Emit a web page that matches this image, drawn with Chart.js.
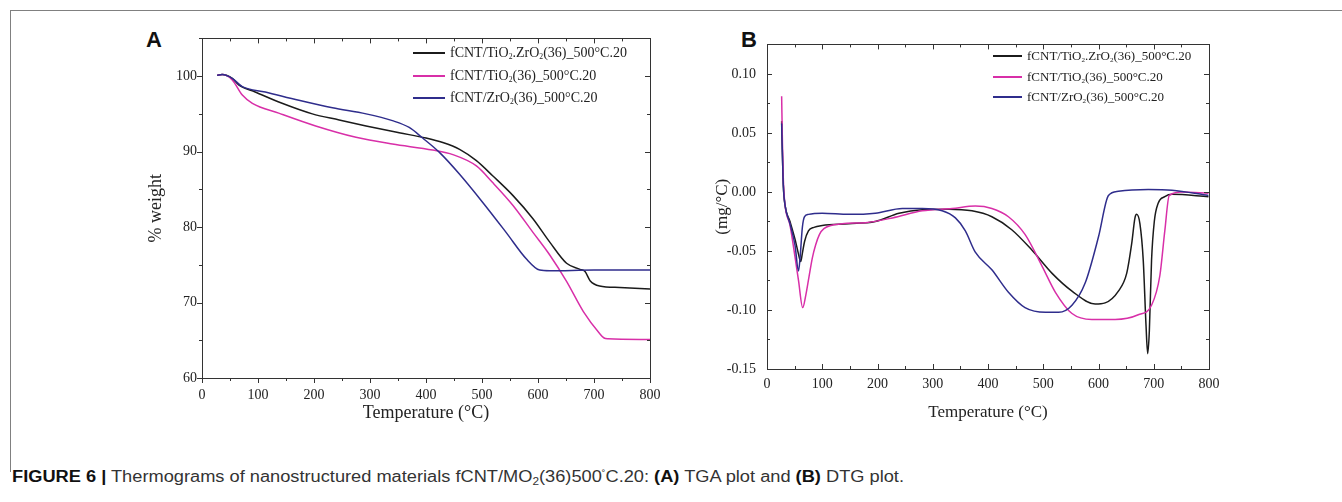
<!DOCTYPE html>
<html>
<head>
<meta charset="utf-8">
<script src="https://cdn.jsdelivr.net/npm/chart.js@4.4.1/dist/chart.umd.min.js"></script>
<style>
  body { margin: 0; background: #fff; width: 1342px; height: 502px; position: relative; overflow: hidden; font-family: "Liberation Serif", "Times New Roman", serif; }
  .rule-top { position: absolute; left: 10px; top: 10px; width: 1332px; height: 1px; background: #808080; }
  .rule-left { position: absolute; left: 10px; top: 10px; width: 1px; height: 462px; background: #808080; }
  .panel-letter { position: absolute; font: bold 22px "Liberation Sans", Arial, sans-serif; color: #111; }
  canvas { position: absolute; }
  .legend { position: absolute; color: #222; white-space: nowrap; }
  .legend .row { display: flex; align-items: center; }
  .legend .swatch { display: inline-block; height: 1.6px; margin-right: 5px; }
  .legend sub { font-size: 0.55em; vertical-align: -0.25em; line-height: 0; }
  .caption { position: absolute; left: 12px; top: 468px; font: 16px "Liberation Sans Narrow", "Liberation Sans", Arial, sans-serif; color: #333; white-space: nowrap; transform-origin: 0 0; }
  .caption b { color: #111; }
  .caption sub { font-size: 0.65em; vertical-align: -0.25em; line-height: 0; }
  .caption sup { font-size: 0.6em; vertical-align: 0.5em; line-height: 0; }
</style>
</head>
<body>
<div class="rule-top"></div>
<div class="rule-left"></div>

<div class="panel-letter" style="left:146px; top:27px;">A</div>
<div class="panel-letter" style="left:741px; top:27px;">B</div>

<canvas id="tgaChart" width="530" height="425" style="left:140px; top:25px;"></canvas>
<canvas id="dtgChart" width="530" height="425" style="left:700px; top:25px;"></canvas>

<div class="legend" id="legendA" style="left:413px; top:42px; font-size:14px;"></div>
<div class="legend" id="legendB" style="left:993px; top:46px; font-size:13px;"></div>

<div class="caption" id="caption"><b>FIGURE 6 |</b> Thermograms of nanostructured materials fCNT/MO<sub>2</sub>(36)500<sup>˚</sup>C.20: <b>(A)</b> TGA plot and <b>(B)</b> DTG plot.</div>

<script>
// ---- series names ----
const seriesNames = [
    'fCNT/TiO<sub>2</sub>.ZrO<sub>2</sub>(36)_500°C.20',
    'fCNT/TiO<sub>2</sub>(36)_500°C.20',
    'fCNT/ZrO<sub>2</sub>(36)_500°C.20'
];
const seriesColors = ['#1b1b1b', '#d82fa8', '#2f2d8c'];

// ---- (A) TGA: temperature (°C) / % weight ----
const tgaTempMix = [27, 36, 54, 66, 95, 143, 197, 245, 293, 352, 400, 430, 460, 490, 519, 555, 591, 621, 651, 675, 684, 693, 710, 746, 800];
const tgaWtMix   = [100.1, 100.2, 99.7, 98.8, 97.9, 96.4, 95.0, 94.2, 93.4, 92.5, 91.8, 91.2, 90.3, 88.8, 86.8, 84.2, 81.1, 78.0, 75.2, 74.4, 74.1, 72.9, 72.2, 72.0, 71.8];

const tgaTempTi = [27, 36, 54, 72, 90, 137, 203, 275, 340, 412, 448, 490, 519, 555, 591, 621, 651, 681, 710, 718, 725, 800];
const tgaWtTi   = [100.1, 100.2, 99.5, 97.5, 96.4, 95.1, 93.4, 91.9, 91.0, 90.2, 89.6, 88.1, 85.9, 82.9, 79.3, 76.3, 72.8, 68.8, 65.9, 65.3, 65.2, 65.1];

const tgaTempZr = [27, 36, 54, 72, 113, 173, 233, 293, 340, 370, 394, 424, 460, 501, 543, 579, 603, 621, 700, 800];
const tgaWtZr   = [100.1, 100.2, 99.7, 98.6, 97.9, 96.8, 95.8, 95.0, 94.1, 93.2, 91.8, 89.9, 87.0, 83.3, 79.3, 75.8, 74.3, 74.2, 74.3, 74.3];

// ---- (B) DTG: temperature (°C) / mg per °C ----
const dtgTempMix = [26.5, 28, 29.6, 32.6, 41.6, 50.7, 56.7, 61, 64, 68, 75, 85, 100, 148, 196, 239, 281, 329, 371, 407, 443, 479, 516, 552, 594, 612, 636, 651, 660, 666, 669, 675, 681, 686, 689, 692, 696, 701, 708, 720, 733, 799];
const dtgValMix  = [0.060, 0.030, 0.005, -0.011, -0.025, -0.040, -0.052, -0.059, -0.052, -0.042, -0.033, -0.030, -0.0285, -0.027, -0.025, -0.018, -0.015, -0.0146, -0.016, -0.021, -0.032, -0.049, -0.069, -0.084, -0.095, -0.094, -0.084, -0.069, -0.044, -0.022, -0.019, -0.027, -0.058, -0.113, -0.137, -0.118, -0.058, -0.025, -0.0096, -0.004, -0.002, -0.004];

const dtgTempTi = [26.5, 28, 29.6, 32.6, 41.6, 50.7, 57, 64.6, 70, 76, 82, 88, 95, 103, 136, 178, 227, 281, 335, 377, 407, 437, 467, 498, 522, 552, 588, 630, 672, 696, 711, 720, 728, 751, 799];
const dtgValTi  = [0.081, 0.040, 0.010, -0.011, -0.028, -0.055, -0.075, -0.098, -0.088, -0.072, -0.056, -0.045, -0.036, -0.031, -0.027, -0.026, -0.022, -0.016, -0.014, -0.012, -0.014, -0.021, -0.036, -0.063, -0.085, -0.103, -0.108, -0.108, -0.104, -0.096, -0.071, -0.033, -0.003, 0.000, -0.001];

const dtgTempZr = [26.5, 28, 29.6, 32.6, 41.6, 50.7, 57, 60, 64, 68, 75, 100, 148, 196, 245, 281, 317, 341, 359, 377, 407, 437, 467, 504, 528, 552, 576, 600, 618, 636, 690, 733, 799];
const dtgValZr  = [0.058, 0.030, 0.005, -0.011, -0.027, -0.045, -0.067, -0.055, -0.030, -0.021, -0.019, -0.018, -0.019, -0.018, -0.014, -0.014, -0.016, -0.022, -0.033, -0.051, -0.066, -0.085, -0.098, -0.102, -0.102, -0.096, -0.077, -0.038, -0.003, 0.0006, 0.002, 0.0014, -0.003];

// ---- axis ticks ----
const tempTicks = [0, 100, 200, 300, 400, 500, 600, 700, 800];
const tgaTicks = [60, 70, 80, 90, 100];
const dtgTicks = [-0.15, -0.10, -0.05, 0.00, 0.05, 0.10];

const toPoints = (xs, ys) => xs.map((x, i) => ({ x: x, y: ys[i] }));
const isMajor = (v, list) => list.some(t => Math.abs(t - v) < 1e-9);

const TICK_FONT = { family: '"Liberation Serif", "Times New Roman", serif', size: 14 };
const TEXT_COLOR = '#222';

// khung + vạch chia bốn phía
const framePlugin = {
    id: 'frame',
    afterDatasetsDraw(chart, args, opts) {
        const { ctx, chartArea: { left, right, top, bottom }, scales: { x, y } } = chart;
        ctx.save();
        ctx.strokeStyle = '#333';
        ctx.lineWidth = 1;
        ctx.strokeRect(Math.round(left) + 0.5, Math.round(top) + 0.5, Math.round(right - left), Math.round(bottom - top));
        ctx.beginPath();
        const outSign = opts.outward ? 1 : -1;
        x.ticks.forEach(t => {
            const len = isMajor(t.value, opts.xMajor) ? 5 : 3;
            const px = Math.round(x.getPixelForValue(t.value)) + 0.5;
            ctx.moveTo(px, bottom); ctx.lineTo(px, bottom + outSign * len);
            ctx.moveTo(px, top); ctx.lineTo(px, top + len);
        });
        y.ticks.forEach(t => {
            const len = isMajor(t.value, opts.yMajor) ? 5 : 3;
            const py = Math.round(y.getPixelForValue(t.value)) + 0.5;
            ctx.moveTo(left, py); ctx.lineTo(left - outSign * len, py);
            ctx.moveTo(right, py); ctx.lineTo(right - len, py);
        });
        ctx.stroke();
        ctx.restore();
    }
};

function makeDatasets(groups) {
    return groups.map((g, i) => ({
        label: seriesNames[i].replace(/<\/?sub>/g, ''),
        data: toPoints(g[0], g[1]),
        borderColor: seriesColors[i],
        borderWidth: 1.5,
        pointRadius: 0,
        fill: false,
        cubicInterpolationMode: 'monotone',
        order: 2 - i
    }));
}

function makeOptions(cfg) {
    return {
        responsive: false,
        animation: false,
        layout: { padding: { top: 10, right: cfg.padRight, left: 0, bottom: 0 } },
        plugins: {
            legend: { display: false },
            tooltip: { enabled: false },
            frame: { outward: cfg.outward, xMajor: tempTicks, yMajor: cfg.yMajor }
        },
        scales: {
            x: {
                type: 'linear', min: 0, max: 800,
                grid: { display: false, drawTicks: false },
                border: { display: false },
                ticks: {
                    stepSize: 50, autoSkip: false, maxRotation: 0,
                    padding: cfg.xPad, font: TICK_FONT, color: TEXT_COLOR,
                    callback: v => isMajor(v, tempTicks) ? String(v) : ''
                },
                title: {
                    display: true, text: 'Temperature (°C)', color: TEXT_COLOR,
                    font: { family: TICK_FONT.family, size: cfg.xTitleSize },
                    padding: { top: 0, bottom: cfg.xTitlePad }
                },
                afterFit: s => { s.height = cfg.xAxisH; }
            },
            y: {
                min: cfg.yMin, max: cfg.yMax,
                grid: { display: false, drawTicks: false },
                border: { display: false },
                ticks: {
                    stepSize: cfg.yStep, autoSkip: false,
                    padding: cfg.yPad, font: TICK_FONT, color: TEXT_COLOR,
                    callback: v => isMajor(v, cfg.yMajor) ? cfg.fmt(v) : ''
                },
                title: {
                    display: true, text: cfg.yTitle, color: TEXT_COLOR,
                    font: { family: TICK_FONT.family, size: cfg.yTitleSize },
                    padding: { top: cfg.yTitlePad, bottom: 0 }
                },
                afterFit: s => { s.width = cfg.yAxisW; }
            }
        }
    };
}

new Chart(document.getElementById('tgaChart'), {
    type: 'line',
    data: { datasets: makeDatasets([[tgaTempMix, tgaWtMix], [tgaTempTi, tgaWtTi], [tgaTempZr, tgaWtZr]]) },
    options: makeOptions({
        padRight: 20, outward: true, yMajor: tgaTicks,
        yMin: 60, yMax: 105, yStep: 5, fmt: v => String(v),
        xPad: 9, yPad: 5, xAxisH: 72, yAxisW: 62,
        xTitleSize: 18, xTitlePad: 26, yTitle: '% weight', yTitleSize: 18, yTitlePad: 5
    }),
    plugins: [framePlugin]
});

new Chart(document.getElementById('dtgChart'), {
    type: 'line',
    data: { datasets: makeDatasets([[dtgTempMix, dtgValMix], [dtgTempTi, dtgValTi], [dtgTempZr, dtgValZr]]) },
    options: makeOptions({
        padRight: 21, outward: false, yMajor: dtgTicks,
        yMin: -0.15, yMax: 0.125, yStep: 0.025, fmt: v => v.toFixed(2),
        xPad: 7, yPad: 11, xAxisH: 81, yAxisW: 67,
        xTitleSize: 17, xTitlePad: 27, yTitle: '(mg/°C)', yTitleSize: 17, yTitlePad: 12
    }),
    plugins: [framePlugin]
});

// chú giải
function buildLegend(el, swatchW, rowH) {
    seriesNames.forEach((name, i) => {
        const row = document.createElement('div');
        row.className = 'row';
        row.style.height = rowH + 'px';
        row.innerHTML = '<span class="swatch" style="width:' + swatchW + 'px;background:' + seriesColors[i] + '"></span><span>' + name + '</span>';
        el.appendChild(row);
    });
}
buildLegend(document.getElementById('legendA'), 32, 22.5);
buildLegend(document.getElementById('legendB'), 29, 20.5);

// chú thích hình: kéo giãn cho đúng bề ngang
const cap = document.getElementById('caption');
const capW = cap.getBoundingClientRect().width;
cap.style.transform = 'scaleX(' + (892 / capW) + ')';
</script>
</body>
</html>
